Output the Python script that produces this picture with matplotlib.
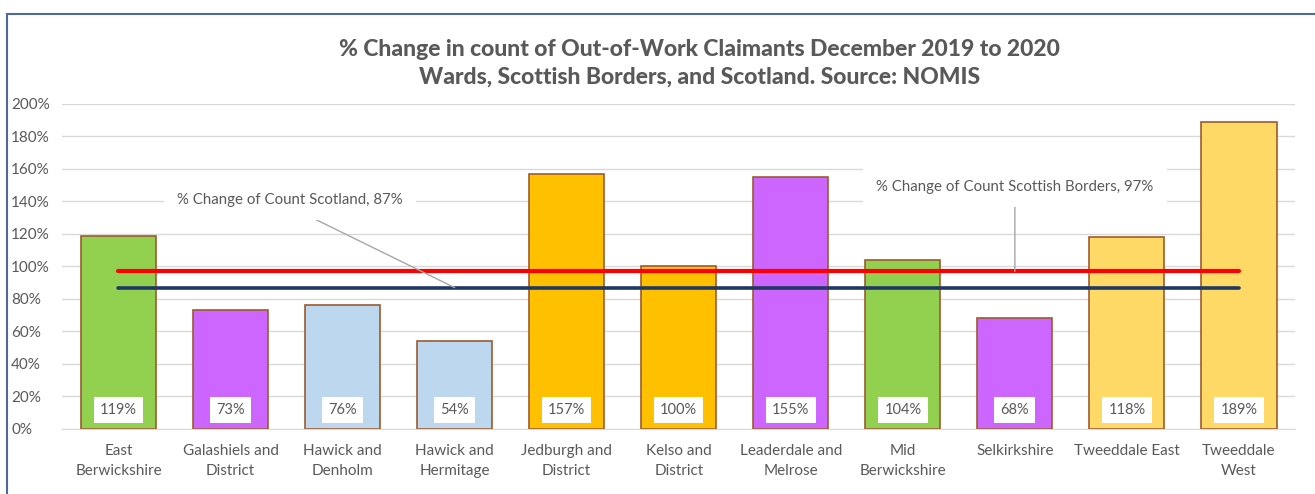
import matplotlib.pyplot as plt
from matplotlib.lines import Line2D
from matplotlib.ticker import FuncFormatter

plt.rcParams['font.family'] = ['Lato', 'DejaVu Sans']

# data
wards = ["East\nBerwickshire", "Galashiels and\nDistrict", "Hawick and\nDenholm",
         "Hawick and\nHermitage", "Jedburgh and\nDistrict", "Kelso and\nDistrict",
         "Leaderdale and\nMelrose", "Mid\nBerwickshire", "Selkirkshire",
         "Tweeddale East", "Tweeddale\nWest"]
pct_change = [119, 73, 76, 54, 157, 100, 155, 104, 68, 118, 189]
bar_colors = ["#92D050", "#CC66FF", "#BDD7EE", "#BDD7EE", "#FFC000", "#FFC000",
              "#CC66FF", "#92D050", "#CC66FF", "#FFD966", "#FFD966"]
scotland = 87
borders = 97

grey = "#595959"

fig = plt.figure(figsize=(13.15, 4.94), dpi=100)
ax = fig.add_axes([0.0475, 0.1316, 0.9373, 0.6579])

x = list(range(len(wards)))
ax.bar(x, pct_change, width=0.67, color=bar_colors, edgecolor="#9C5B2E", linewidth=1.2, zorder=2)

# data labels inside bar base
for xi, v in zip(x, pct_change):
    ax.text(xi, 11.7, f"{v}%", ha="center", va="center", fontsize=10.5, color=grey, zorder=4,
            bbox=dict(boxstyle="square,pad=0.42", fc="white", ec="none"))

# reference lines
ax.plot([x[0], x[-1]], [borders, borders], color="#FF0000", lw=3, zorder=3, solid_capstyle="round")
ax.plot([x[0], x[-1]], [scotland, scotland], color="#203864", lw=2.6, zorder=3, solid_capstyle="round")

ax.annotate(f"% Change of Count Scotland, {scotland}%", xy=(3, scotland), xytext=(1.53, 141),
            ha="center", va="center", fontsize=10.8, color=grey, zorder=5,
            bbox=dict(boxstyle="square,pad=0.9", fc="white", ec="none"),
            arrowprops=dict(arrowstyle="-", color="#A6A6A6", lw=1, relpos=(0.5, 0),
                            patchA=None, shrinkA=1, shrinkB=0))
ax.annotate(f"% Change of Count Scottish Borders, {borders}%", xy=(8, borders), xytext=(8, 149),
            ha="center", va="center", fontsize=10.8, color=grey, zorder=5,
            bbox=dict(boxstyle="square,pad=0.9", fc="white", ec="none"),
            arrowprops=dict(arrowstyle="-", color="#A6A6A6", lw=1, relpos=(0.5, 0),
                            patchA=None, shrinkA=1, shrinkB=0))

ax.set_xlim(-0.5, len(wards) - 0.5)
ax.set_ylim(0, 200)
ax.set_yticks(range(0, 201, 20))
ax.yaxis.set_major_formatter(FuncFormatter(lambda v, p: f"{int(v)}%"))
ax.set_xticks(x)
ax.set_xticklabels(wards, linespacing=1.5)
ax.tick_params(axis="both", length=0, colors=grey, labelsize=11)
ax.tick_params(axis="x", pad=11)
for lbl in ax.get_yticklabels():
    lbl.set_ha("left")
ax.yaxis.set_tick_params(pad=37)
ax.grid(axis="y", color="#D9D9D9", lw=1, zorder=0)
ax.set_axisbelow(True)
for side in ["top", "right", "left"]:
    ax.spines[side].set_visible(False)
ax.spines["bottom"].set_color("#D9D9D9")

fig.text(0.532, 0.872, "% Change in count of Out-of-Work Claimants December 2019 to 2020\n"
         "Wards, Scottish Borders, and Scotland. Source: NOMIS",
         ha="center", va="center", fontsize=16.5, fontweight=900, color=grey, linespacing=1.4)

# chart border
fig.add_artist(Line2D([7 / 1315, 1], [1 - 14.5 / 494, 1 - 14.5 / 494], color="#4F6A9A", lw=1.5))
fig.add_artist(Line2D([7 / 1315, 7 / 1315], [0, 1 - 14.5 / 494], color="#4F6A9A", lw=1.5))

fig.savefig("out.png", dpi=100)
